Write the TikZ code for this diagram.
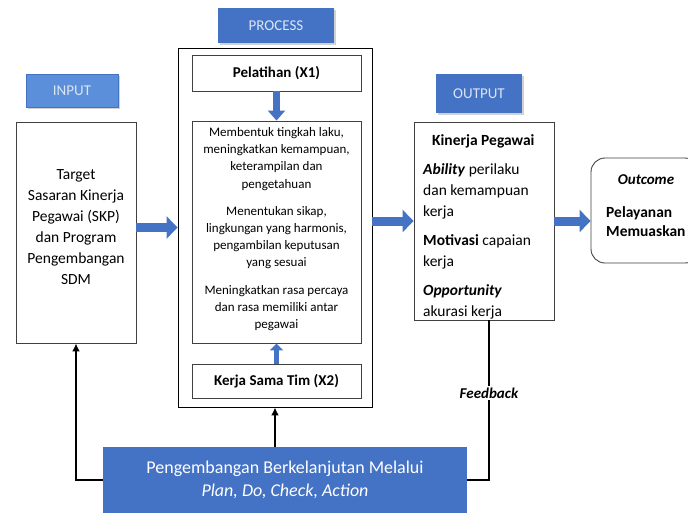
\documentclass[tikz,border=0pt]{standalone}
\usepackage{fontspec}
\setmainfont{Carlito}
\usepackage{xcolor}
\usetikzlibrary{arrows.meta,positioning,calc,shadows}
\definecolor{boxblue}{HTML}{4472C4}
\definecolor{lightblue}{HTML}{5B8FD9}
\definecolor{labeltext}{HTML}{DCE5F4}
\definecolor{edge}{HTML}{404040}

\begin{document}
\begin{tikzpicture}[x=1pt, y=-1pt,
  box/.style={draw=edge, line width=0.9pt, fill=white, inner sep=0pt},
  tag/.style={fill=boxblue, text=labeltext, inner sep=0pt, font=\fontsize{15}{17}\selectfont,
    drop shadow={shadow xshift=2pt, shadow yshift=-2pt, fill=black!35}},
  blockarrow/.style={draw=boxblue, line width=9pt, -{Triangle[length=11pt, width=22pt]}},
  smallarrow/.style={draw=boxblue, line width=7pt, -{Triangle[length=10pt, width=17pt]}},
  tinyarrow/.style={draw=boxblue, line width=5pt, -{Triangle[length=7pt, width=13pt]}},
  loop/.style={line width=2.4pt, -{Latex[length=8pt, width=8pt]}}]
  \useasboundingbox (0,0) rectangle (688,512);
  \clip (0,0) rectangle (688,512);

  % Input
  \node[tag, fill=lightblue, draw=boxblue, line width=1pt, drop shadow={opacity=0},
    minimum width=92, minimum height=33] (inlabel) at (72,90.5) {INPUT};
  \node[box, minimum width=120, minimum height=221] (input) at (76,232.5) {};
  \node[align=center, font=\fontsize{15.5}{21}\selectfont] (intext) at (76,227)
    {Target\\Sasaran Kinerja\\Pegawai (SKP)\\dan Program\\Pengembangan\\SDM};

  % Process
  \node[tag, minimum width=116, minimum height=35] (proclabel) at (276,25.5) {PROCESS};
  \node[draw=black, line width=0.9pt, minimum width=194, minimum height=359] (process) at (275,227.5) {};
  \node[box, minimum width=169, minimum height=36, font=\fontsize{15}{17}\selectfont\bfseries]
    (pelatihan) at (276.5,73) {Pelatihan (X1)};
  \node[box, minimum width=169, minimum height=222] (effect) at (276.5,232) {};
  \node[align=center, font=\fontsize{13}{17.2}\selectfont] (effecttext) at (276.5,229)
    {Membentuk tingkah laku,\\meningkatkan kemampuan,\\keterampilan dan\\pengetahuan\\[10pt]
     Menentukan sikap,\\lingkungan yang harmonis,\\pengambilan keputusan\\yang sesuai\\[10pt]
     Meningkatkan rasa percaya\\dan rasa memiliki antar\\pegawai};
  \node[box, minimum width=169, minimum height=34, font=\fontsize{15}{17}\selectfont\bfseries]
    (kerjasama) at (276.5,381) {Kerja Sama Tim (X2)};
  \draw[smallarrow] (pelatihan.south) -- (effect.north);
  \draw[tinyarrow] (kerjasama.north) -- (effect.south);

  % Output
  \node[tag, minimum width=86, minimum height=39] (outlabel) at (479,93.5) {OUTPUT};
  \node[box, minimum width=140, minimum height=198] (output) at (484,221) {};
  \node[anchor=north west, align=left, inner sep=0pt, font=\fontsize{15.5}{21}\selectfont]
    (outtext) at (423,134)
    {\hspace*{9pt}\textbf{Kinerja Pegawai}\\[8pt]
     \textbf{\textit{Ability}} perilaku\\dan kemampuan\\kerja\\[8pt]
     \textbf{Motivasi} capaian\\kerja\\[8pt]
     \textbf{\textit{Opportunity}}\\akurasi kerja};

  % Outcome
  \node[box, rounded corners=14pt, minimum width=108, minimum height=105] (outcome) at (645,210.5) {};
  \node[font=\fontsize{15}{17}\selectfont\bfseries\itshape] (outtitle) at (646,180) {Outcome};
  \node[anchor=north west, align=left, inner sep=0pt, font=\fontsize{15.5}{19.5}\selectfont\bfseries]
    (outresult) at (606,206) {Pelayanan\\Memuaskan};

  % Flow arrows
  \draw[blockarrow] (input.east |- process.west) -- (process.west);
  \draw[blockarrow] (process.east |- output.west) -- (output.west);
  \draw[blockarrow] (output.east) -- (output.east -| outcome.west);

  % Continuous improvement
  \node[fill=boxblue, text=white, inner sep=0pt, minimum width=364, minimum height=66, align=center,
    font=\fontsize{18}{23}\selectfont] (pdca) at (285,480)
    {Pengembangan Berkelanjutan Melalui\\\textit{Plan, Do, Check, Action}};
  \coordinate (fbtop) at ([xshift=5]output.south);
  \draw[loop] (pdca.west) -| (input.south);
  \draw[loop] (process.south |- pdca.north) -- (process.south);
  \draw[line width=2.4pt] (fbtop) -- (fbtop |- pdca.east) -- (pdca.east);
  \node[fill=white, inner sep=2pt, font=\fontsize{15}{17}\selectfont\bfseries\itshape]
    (feedback) at (489,393) {Feedback};
\end{tikzpicture}
\end{document}
